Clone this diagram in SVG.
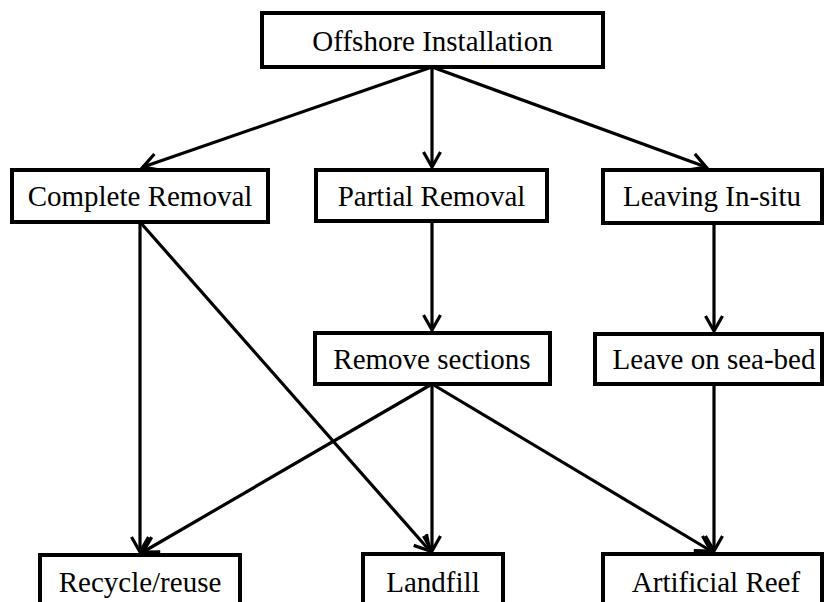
<svg xmlns="http://www.w3.org/2000/svg" width="824" height="602" viewBox="0 0 824 602">
<style>
.box{fill:#fff;stroke:#000;stroke-width:4}
.lbl{font-family:"Liberation Serif","Times New Roman",serif;font-size:29px;fill:#000;text-anchor:middle}
.edge{stroke:#000;stroke-width:3.2;fill:none;marker-end:url(#arr)}
</style>
<defs>
<marker id="arr" markerUnits="userSpaceOnUse" markerWidth="22" markerHeight="22" refX="16" refY="10" orient="auto" viewBox="0 0 22 20">
<path d="M1,1.5 L16,10 L1,18.5" fill="none" stroke="#000" stroke-width="3.2" stroke-linejoin="miter"/>
</marker>
</defs>
<rect width="824" height="602" fill="#fff"/>
<g id="connectors">
<line class="edge" x1="432" y1="67" x2="143" y2="167"/>
<line class="edge" x1="432" y1="67" x2="432" y2="167"/>
<line class="edge" x1="432" y1="67" x2="706" y2="167"/>
<line class="edge" x1="432" y1="221" x2="432" y2="330"/>
<line class="edge" x1="714" y1="223" x2="714" y2="331"/>
<line class="edge" x1="140" y1="222" x2="140" y2="552"/>
<line class="edge" x1="140" y1="222" x2="430" y2="551"/>
<line class="edge" x1="432" y1="384" x2="143" y2="552"/>
<line class="edge" x1="432" y1="384" x2="432" y2="551"/>
<line class="edge" x1="432" y1="384" x2="711" y2="551"/>
<line class="edge" x1="714" y1="384" x2="714" y2="551"/>
</g>
<g id="offshore"><rect class="box" x="262" y="13" width="341" height="54"/><text class="lbl" x="432.5" y="51">Offshore Installation</text></g>
<g id="complete"><rect class="box" x="12" y="170" width="256" height="52"/><text class="lbl" x="140" y="206">Complete Removal</text></g>
<g id="partial"><rect class="box" x="316" y="170" width="231" height="51"/><text class="lbl" x="431.5" y="206">Partial Removal</text></g>
<g id="leaving"><rect class="box" x="603" y="170" width="219" height="53"/><text class="lbl" x="712" y="206">Leaving In-situ</text></g>
<g id="remove"><rect class="box" x="315" y="333" width="235" height="51"/><text class="lbl" x="432" y="369">Remove sections</text></g>
<g id="leave"><rect class="box" x="595" y="334" width="227" height="50"/><text class="lbl" x="714" y="369">Leave on sea-bed</text></g>
<g id="recycle"><rect class="box" x="40" y="555" width="200" height="60"/><text class="lbl" x="140" y="592">Recycle/reuse</text></g>
<g id="landfill"><rect class="box" x="363" y="554" width="140" height="60"/><text class="lbl" x="433" y="592">Landfill</text></g>
<g id="reef"><rect class="box" x="603" y="554" width="219" height="60"/><text class="lbl" x="716" y="592">Artificial Reef</text></g>
</svg>
